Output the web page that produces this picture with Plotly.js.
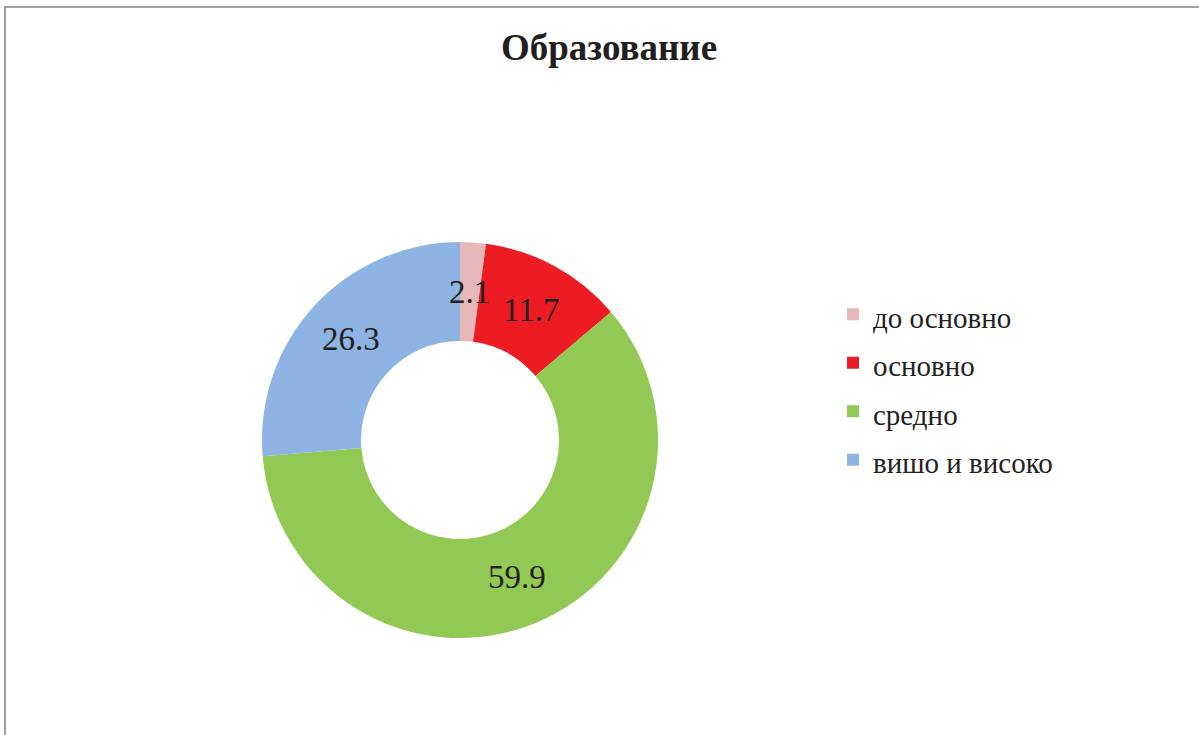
<!DOCTYPE html>
<html>
<head>
<meta charset="utf-8">
<script src="https://cdn.plot.ly/plotly-3.0.1.min.js"></script>
<style>
  html, body { margin: 0; padding: 0; background: #fff; }
  #chart { width: 1199px; height: 735px; }
</style>
</head>
<body>
<div id="chart"></div>
<script>
const labels = ['до основно', 'основно', 'средно', 'вишо и високо'];
const values = [2.1, 11.7, 59.9, 26.3];
const colors = ['#e6b9b8', '#ed1c24', '#92c954', '#8db4e2'];

const W = 1199, H = 735;
const serif = 'Liberation Serif, Times New Roman, serif';

// donut placement (pixels)
const pieLeft = 262, pieRight = 658, pieTop = 242, pieBottom = 638;
const hole = 0.5;
const domX = [pieLeft / W, pieRight / W];
const domY = [1 - pieBottom / H, 1 - pieTop / H];

// value labels sit in the middle of the ring, at each slice's mid angle
const cx = (domX[0] + domX[1]) / 2;
const cy = (domY[0] + domY[1]) / 2;
const outerR = Math.min(pieRight - pieLeft, pieBottom - pieTop) / 2;
const midR = outerR * (1 + hole) / 2;
const total = values.reduce((a, b) => a + b, 0);
let cum = 0;
const annotations = values.map(v => {
  const a = (cum + v / 2) / total * 2 * Math.PI;
  cum += v;
  return {
    x: cx + midR * Math.sin(a) / W,
    y: cy + midR * Math.cos(a) / H,
    xref: 'paper', yref: 'paper',
    xanchor: 'center', yanchor: 'middle',
    text: v.toFixed(1),
    showarrow: false,
    font: { family: serif, size: 33, color: '#231f20' }
  };
});

const trace = {
  type: 'pie',
  labels: labels.map(l => '<span style="font-size:29px">' + l + '</span>'),
  values: values,
  hole: hole,
  sort: false,
  direction: 'clockwise',
  rotation: 0,
  textinfo: 'none',
  hoverinfo: 'label+value',
  marker: { colors: colors, line: { width: 0 } },
  domain: { x: domX, y: domY }
};

const layout = {
  width: W,
  height: H,
  margin: { l: 0, r: 0, t: 0, b: 0 },
  paper_bgcolor: '#ffffff',
  title: {
    text: '<b>Образование</b>',
    font: { family: serif, size: 37, color: '#231f20' },
    x: 609 / W, xanchor: 'center',
    y: 1 - 47 / H, yanchor: 'middle'
  },
  showlegend: true,
  legend: {
    x: 833 / W, xanchor: 'left',
    y: 1 - 387 / H, yanchor: 'middle',
    font: { family: serif, size: 35, color: '#231f20' },
    bgcolor: 'rgba(0,0,0,0)'
  },
  annotations: annotations,
  shapes: [
    { type: 'line', xref: 'paper', yref: 'paper', x0: 5 / W, x1: 5 / W, y0: 0, y1: 1 - 6 / H,
      line: { color: '#a0a0a0', width: 2 } },
    { type: 'line', xref: 'paper', yref: 'paper', x0: 5 / W, x1: 1, y0: 1 - 7 / H, y1: 1 - 7 / H,
      line: { color: '#a0a0a0', width: 2 } }
  ]
};

Plotly.newPlot('chart', [trace], layout, { displayModeBar: false });
</script>
</body>
</html>
